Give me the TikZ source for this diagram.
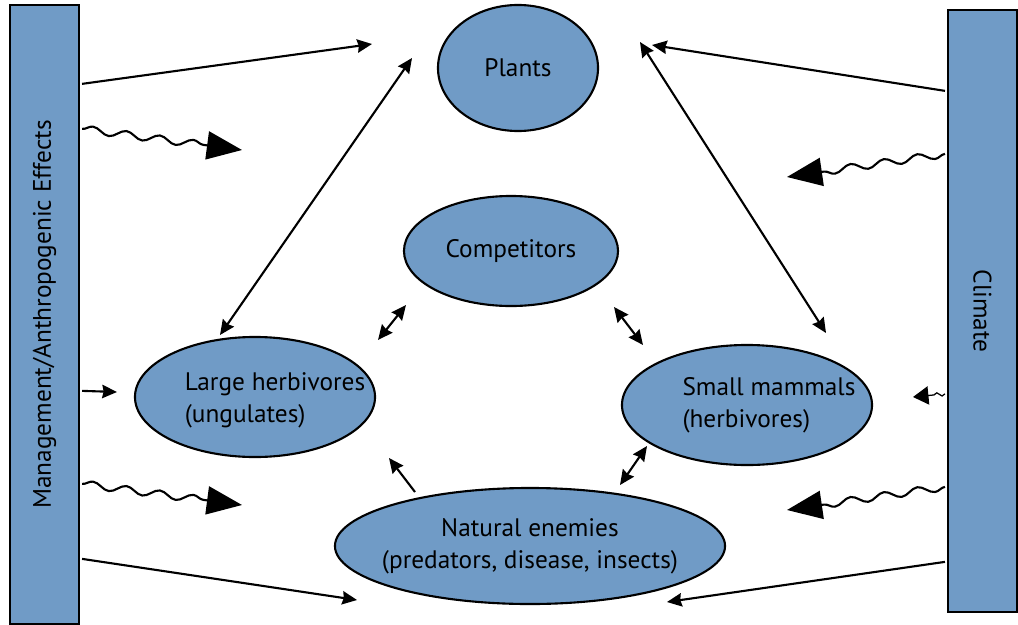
\documentclass[tikz,border=0pt]{standalone}
\usepackage{fontspec}
\setmainfont{PT Sans}
\usetikzlibrary{shapes.geometric,arrows.meta,decorations.pathmorphing,calc}
\definecolor{boxblue}{RGB}{112,155,198}

\begin{document}
\begin{tikzpicture}[x=0.025cm,y=-0.025cm,
  lbl/.style={font=\fontsize{18}{22.5}\selectfont},
  eco/.style={ellipse,draw,line width=1.5pt,fill=boxblue,inner sep=0pt},
  bar/.style={rectangle,draw,line width=1.5pt,fill=boxblue,inner sep=0pt},
  link/.style={line width=1.5pt,-{Stealth[length=10.5pt,width=9.5pt,inset=1pt]}},
  twoway/.style={line width=1.5pt,{Stealth[length=10.5pt,width=9.5pt,inset=1pt]}-{Stealth[length=10.5pt,width=9.5pt,inset=1pt]}},
  wave/.style={line width=1.5pt,decorate,
    decoration={snake,amplitude=2.6pt,segment length=24pt,post length=26pt},
    -{Triangle[length=25pt,width=20pt]}},
  smallwave/.style={line width=0.9pt,decorate,
    decoration={snake,amplitude=1.3pt,segment length=7pt,post length=12pt},
    -{Triangle[length=11pt,width=13pt]}}
]
\useasboundingbox (0,0) rectangle (1018,624);

% side drivers
\node[bar,minimum width=1.725cm,minimum height=15.475cm] (mgmt) at (44.5,314.5) {};
\node[lbl,rotate=90] at (mgmt.center) {Management/Anthropogenic Effects};
\node[bar,minimum width=1.725cm,minimum height=15.05cm] (clim) at (982.5,311) {};
\node[lbl,rotate=-90] at (clim.center) {Climate};

% community members
\node[eco,minimum width=4cm,minimum height=3.15cm] (plants) at (518,68) {};
\node[lbl] at (plants.center) {Plants};
\node[eco,minimum width=5.35cm,minimum height=2.75cm] (comp) at (511,251) {};
\node[lbl] at (comp.center) {Competitors};
\node[eco,minimum width=6cm,minimum height=3cm] (large) at (255,397) {};
\node[lbl,align=left] at ($(large.center)+(20,3)$) {Large herbivores\\(ungulates)};
\node[eco,minimum width=6.25cm,minimum height=3cm] (small) at (747,405) {};
\node[lbl,align=left] at ($(small.center)+(22,0)$) {Small mammals\\(herbivores)};
\node[eco,minimum width=9.75cm,minimum height=2.9cm] (enemy) at (530,546) {};
\node[lbl,align=center] at (enemy.center) {Natural enemies\\(predators, disease, insects)};

% free ends of the connectors
\coordinate (mA) at ($(mgmt.north east)+(2,80)$);
\coordinate (mB) at ($(mgmt.north east)+(2,125)$);
\coordinate (mC) at ($(mgmt.north east)+(2,387)$);
\coordinate (mD) at ($(mgmt.north east)+(2,480)$);
\coordinate (mE) at ($(mgmt.north east)+(2,555)$);
\coordinate (cA) at ($(clim.north west)+(-2,82)$);
\coordinate (cB) at ($(clim.north west)+(-2,145)$);
\coordinate (cC) at ($(clim.north west)+(-2,385)$);
\coordinate (cD) at ($(clim.north west)+(-2,478)$);
\coordinate (cE) at ($(clim.north west)+(-2,553)$);
\coordinate (tA) at (372,44);
\coordinate (tB) at (242,150);
\coordinate (tC) at (117,392);
\coordinate (tD) at (242,505);
\coordinate (tE) at (357,600);
\coordinate (uA) at (652,45);
\coordinate (uB) at (787,177);
\coordinate (uC) at (913,397);
\coordinate (uD) at (787,510);
\coordinate (uE) at (667,602);

% management effects
\draw[link] (mA) -- (tA);
\draw[wave] (mB) -- (tB);
\draw[link] (mC) -- (tC);
\draw[wave] (mD) -- (tD);
\draw[link] (mE) -- (tE);

% climate effects
\draw[link] (cA) -- (uA);
\draw[wave] (cB) -- (uB);
\draw[smallwave] (cC) -- (uC);
\draw[wave] (cD) -- (uD);
\draw[link] (cE) -- (uE);

% interactions between members
\coordinate (p1) at (412,58);   \coordinate (h1) at (220,335);
\coordinate (p2) at (640,42);   \coordinate (s2) at (826,333);
\coordinate (c3) at (406,305);  \coordinate (h3) at (378,340);
\coordinate (c4) at (614,307);  \coordinate (s4) at (643,345);
\coordinate (s5) at (647,446);  \coordinate (e5) at (620,485);
\coordinate (e6) at (415,492);  \coordinate (h6) at (389,458);
\draw[twoway] (p1) -- (h1);
\draw[twoway] (p2) -- (s2);
\draw[twoway] (c3) -- (h3);
\draw[twoway] (c4) -- (s4);
\draw[twoway] (s5) -- (e5);
\draw[link] (e6) -- (h6);
\end{tikzpicture}
\end{document}
